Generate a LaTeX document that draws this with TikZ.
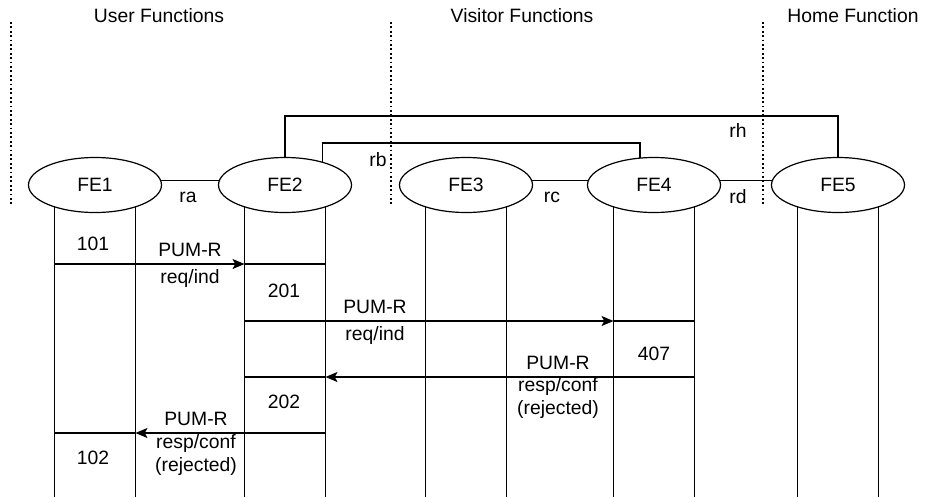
\documentclass[tikz,border=0pt]{standalone}
\usepackage{fontspec}
\setmainfont{Liberation Sans}
\usetikzlibrary{arrows.meta,shapes.geometric}
\tikzset{
	fe/.style={draw, ellipse, line width=0.9pt, inner sep=0pt, minimum width=99.75pt, minimum height=41.25pt},
	life/.style={line width=1pt},
	msg/.style={line width=0.9pt},
	tip/.style={-{Stealth[length=9pt, width=7.5pt, inset=2pt]}},
	sep/.style={dotted, line width=1.3pt},
	lbl/.style={inner sep=0pt, align=center, font=\fontsize{14.5}{17.5}\selectfont}
}

\begin{document}
\begin{tikzpicture}[x=0.75pt, y=-0.75pt]
		%%%%% START %%%%%
		\useasboundingbox (0, 0) rectangle (939, 497);
		
		\node[lbl] (tuser) at (159, 16) {User Functions};
		\node[lbl] (tvisit) at (522, 16) {Visitor Functions};
		\node[lbl] (thome) at (853, 16) {Home Function};
		
		\draw[sep] (11, 22) -- (11, 205);
		\draw[sep] (391, 22) -- (391, 205);
		\draw[sep] (763, 22) -- (763, 205);
		
		\node[fe, lbl] (fe1) at (95, 185) {FE1};
		\node[fe, lbl] (fe2) at (285, 185) {FE2};
		\node[fe, lbl] (fe3) at (466, 185) {FE3};
		\node[fe, lbl] (fe4) at (654, 185) {FE4};
		\node[fe, lbl] (fe5) at (838, 185) {FE5};
		
		\coordinate (bot) at (0, 497);
		\coordinate (rhy) at (0, 116);
		\coordinate (rby) at (0, 143);
		
		%% relations
		\draw[msg] (fe1.4) -- (fe2.176);
		\draw[msg] (fe3.4) -- (fe4.176);
		\draw[msg] (fe4.4) -- (fe5.176);
		\draw[msg] (fe2.north) -- (fe2.north |- rhy) -| (fe5.north);
		\draw[msg] (fe2.32) |- (fe4.117 |- rby) -- (fe4.117);
		\node[lbl] (ra) at (188, 197) {ra};
		\node[lbl] (rc) at (552, 197) {rc};
		\node[lbl] (rd) at (738, 197) {rd};
		\node[lbl] (rh) at (738, 130) {rh};
		\node[lbl] (rb) at (378, 160) {rb};
		
		%% lifelines
		\foreach \f in {fe1, fe2, fe3, fe4, fe5} {
			\coordinate (\f l) at (\f.209);
			\coordinate (\f r) at (\f.331);
			\draw[life] (\f l) -- (\f l |- bot);
			\draw[life] (\f r) -- (\f r |- bot);
		}
		
		\coordinate (m1) at (0, 264);
		\coordinate (m2) at (0, 321);
		\coordinate (m3) at (0, 377);
		\coordinate (m4) at (0, 433);
		
		%% messages
		\draw[msg, tip] (fe1l |- m1) -- (fe2l |- m1);
		\draw[msg] (fe2l |- m1) -- (fe2r |- m1);
		\draw[msg, tip] (fe2l |- m2) -- (fe4l |- m2);
		\draw[msg] (fe4l |- m2) -- (fe4r |- m2);
		\draw[msg, tip] (fe4r |- m3) -- (fe2r |- m3);
		\draw[msg] (fe2r |- m3) -- (fe2l |- m3);
		\draw[msg, tip] (fe2r |- m4) -- (fe1r |- m4);
		\draw[msg] (fe1r |- m4) -- (fe1l |- m4);
		
		\node[lbl] (p1) at (190, 250) {PUM-R};
		\node[lbl] (q1) at (190, 278) {req/ind};
		\node[lbl] (p2) at (375, 307) {PUM-R};
		\node[lbl] (q2) at (375, 335) {req/ind};
		\node[lbl] (p3) at (558, 363) {PUM-R};
		\node[lbl] (q3) at (558, 398) {resp/conf\\(rejected)};
		\node[lbl] (p4) at (196, 419) {PUM-R};
		\node[lbl] (q4) at (196, 455) {resp/conf\\(rejected)};
		
		\node[lbl] (s101) at (93, 244) {101};
		\node[lbl] (s201) at (284, 291) {201};
		\node[lbl] (s407) at (654, 354) {407};
		\node[lbl] (s202) at (284, 402) {202};
		\node[lbl] (s102) at (93, 458) {102};
		%%%%% END %%%%%
\end{tikzpicture}
\end{document}
